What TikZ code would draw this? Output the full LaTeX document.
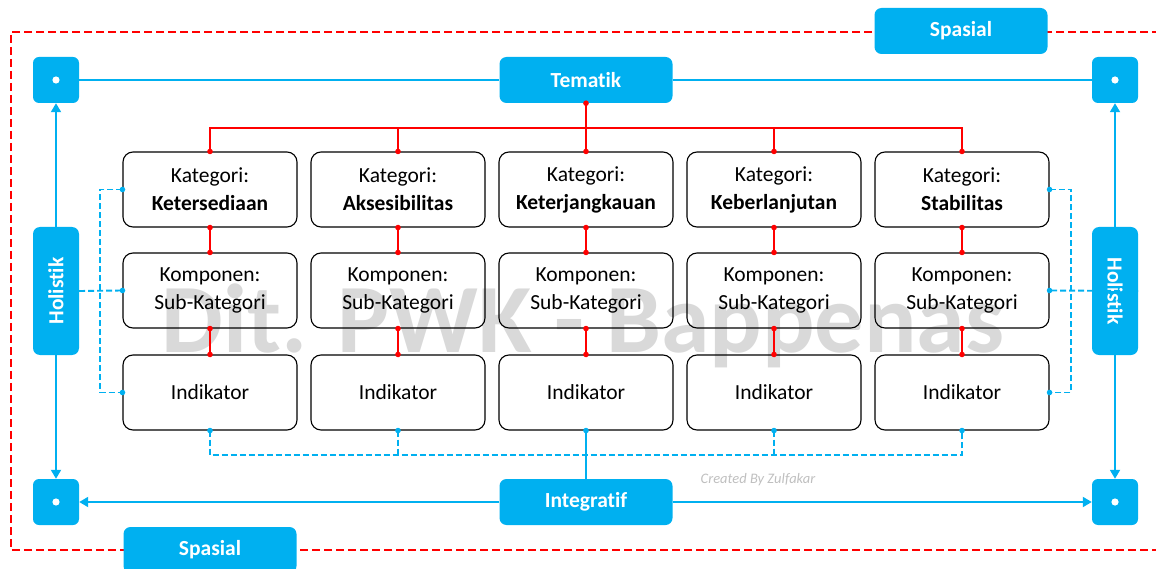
\documentclass[tikz,border=0pt]{standalone}
\usepackage{fontspec}
\setmainfont{Carlito}[Ligatures=CommonOff]
\usetikzlibrary{arrows.meta}
\definecolor{cyanB}{HTML}{00B0F0}
\definecolor{redL}{HTML}{FF0000}
\definecolor{wmgray}{HTML}{D9D9D9}
\definecolor{credgray}{HTML}{BFBFBF}
\begin{document}
\begin{tikzpicture}[x=1pt,y=-1pt,
  bluebox/.style={fill=cyanB, rounded corners=7pt, text=white, font=\fontsize{21.5}{24}\selectfont\bfseries, inner sep=0pt, minimum width=173pt, minimum height=46pt},
  cornerbox/.style={fill=cyanB, rounded corners=6pt, minimum width=46pt, minimum height=46pt, inner sep=0pt},
  holbox/.style={bluebox, minimum width=128pt, minimum height=46pt},
  catbox/.style={draw=black, line width=1.1pt, rounded corners=10pt, minimum width=174pt, minimum height=75pt, inner sep=0pt, align=center, font=\fontsize{21.5}{28}\selectfont},
  redline/.style={draw=redL, line width=1.8pt},
  bluel/.style={draw=cyanB, line width=1.8pt},
  bluedash/.style={draw=cyanB, line width=1.9pt, dash pattern=on 6pt off 3pt},
  reddash/.style={draw=redL, line width=1.9pt, dash pattern=on 8pt off 4pt},
  arr/.style={-{Triangle[length=9pt,width=10pt]}},
]
\useasboundingbox (0,0) rectangle (1156,569);
\clip (0,0) rectangle (1156,569);

% watermark
\node[text=wmgray, font=\fontsize{98}{100}\selectfont\bfseries, anchor=base, inner sep=0pt] (wm) at (583,352) {Dit. PWK - Bappenas};

% spatial frame
\draw[reddash] (1160,32) -- (11,32) -- (11,550) -- (1160,550);
\node[bluebox] (sp1) at (961,31) {Spasial};
\node[bluebox] (sp2) at (210,550) {Spasial};

% blue boxes
\node[bluebox] (tem) at (586,80) {Tematik};
\node[bluebox] (int) at (586,502) {Integratif};
\node[holbox, rotate=90] (holL) at (56,291) {Holistik};
\node[holbox, rotate=-90] (holR) at (1115,291) {Holistik};
\node[cornerbox] (tl) at (56,80) {};
\node[cornerbox] (tr) at (1115,80) {};
\node[cornerbox] (bl) at (56,502) {};
\node[cornerbox] (br) at (1115,502) {};
\foreach \c in {tl,tr,bl,br} \fill[white] (\c.center) circle (3.6pt);

% category boxes
\foreach \i/\x/\name in {1/210/Ketersediaan,2/398/Aksesibilitas,3/586/Keterjangkauan,4/774/Keberlanjutan,5/962/Stabilitas}{
  \node[catbox] (k\i) at (\x,189.5) {Kategori:\\\textbf{\name}};
  \node[catbox] (s\i) at (\x,290.5) {Komponen:\\Sub-Kategori};
  \node[catbox] (n\i) at (\x,392.5) {Indikator};
}

% blue solid connectors
\draw[bluel] (tl) -- (tem);
\draw[bluel] (tem) -- (tr);
\draw[bluel, arr] (int) -- (bl);
\draw[bluel, arr] (int) -- (br);
\draw[bluel, arr] (holL.east) -- (tl);
\draw[bluel, arr] (holL.west) -- (bl);
\draw[bluel, arr] (holR.west) -- (tr);
\draw[bluel, arr] (holR.east) -- (br);

% red tree
\coordinate (bus) at (586,128);
\draw[redline] (tem.south) -- (k3.north);
\draw[redline] (k1.north) -- (k1.north |- bus) -- (k5.north |- bus) -- (k5.north);
\foreach \i in {2,4} \draw[redline] (k\i.north |- bus) -- (k\i.north);
\fill[redL] (tem.south) circle (2.8pt);
\foreach \i in {1,...,5}{
  \draw[redline] (k\i.south) -- (s\i.north);
  \draw[redline] (s\i.south) -- (n\i.north);
  \foreach \p in {k\i.north,k\i.south,s\i.north,s\i.south,n\i.north} \fill[redL] (\p) circle (2.8pt);
}

% left / right dashed
\coordinate (dl) at (100,291);
\coordinate (dr) at (1071,291);
\draw[bluedash] (k1.west) -- (k1.west -| dl) -- (n1.west -| dl) -- (n1.west);
\draw[bluedash] (holL.south) -- (s1.west);
\draw[bluedash] (k5.east) -- (k5.east -| dr) -- (n5.east -| dr) -- (n5.east);
\draw[bluedash] (holR.north) -- (s5.east);
\foreach \p in {k1.west,s1.west,n1.west,k5.east,s5.east,n5.east} \fill[cyanB] (\p) circle (2.8pt);

% bottom dashed
\coordinate (bb) at (586,455);
\draw[bluedash] (n1.south) -- (n1.south |- bb) -- (n5.south |- bb) -- (n5.south);
\foreach \i in {2,4} \draw[bluedash] (n\i.south) -- (n\i.south |- bb);
\draw[bluel] (n3.south) -- (int.north);
\foreach \i in {1,...,5} \fill[cyanB] (n\i.south) circle (2.8pt);

% credit
\node[text=credgray, font=\fontsize{14.5}{16}\selectfont\itshape, inner sep=0pt] (cred) at (758,480) {Created By Zulfakar};
\end{tikzpicture}
\end{document}
